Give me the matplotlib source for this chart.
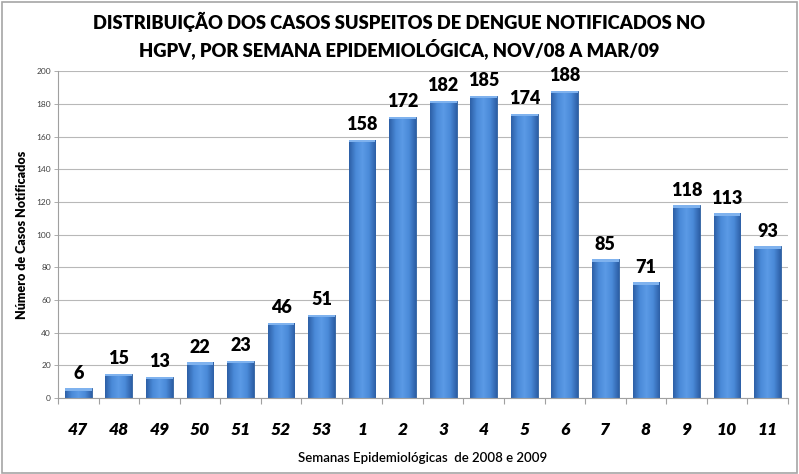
import numpy as np
import matplotlib.pyplot as plt
from matplotlib.colors import LinearSegmentedColormap
from matplotlib.patches import Rectangle

semanas = ['47', '48', '49', '50', '51', '52', '53', '1', '2', '3', '4', '5',
           '6', '7', '8', '9', '10', '11']
casos = [6, 15, 13, 22, 23, 46, 51, 158, 172, 182, 185, 174, 188, 85, 71, 118, 113, 93]

plt.rcParams['font.family'] = ['Lato', 'DejaVu Sans']

fig = plt.figure(figsize=(7.99, 4.74), dpi=100)
ax = fig.add_axes([0.0726, 0.160, 0.9134, 0.690])

x = np.arange(len(semanas))
bars = ax.bar(x, casos, width=0.66, color='#3c78c8', edgecolor='#2f5f9e', linewidth=0.6, zorder=2)

# sombreamento horizontal dentro de cada barra
cmap = LinearSegmentedColormap.from_list('bar', ['#2d5fa6', '#4a8ad8', '#5b9ae6', '#4a8ad8', '#2d5fa6'])
grad = np.linspace(0, 1, 64).reshape(1, -1)
for b in bars:
    bx, bw, bh = b.get_x(), b.get_width(), b.get_height()
    im = ax.imshow(grad, cmap=cmap, aspect='auto', extent=[bx, bx + bw, 0, bh], zorder=2.5)
    im.set_clip_path(b)
    ax.add_patch(Rectangle((bx, bh - 1.5), bw, 1.5, color='#7fb2ee', zorder=2.6, lw=0))
    ax.text(bx + bw / 2, bh + 4, str(bh), ha='center', va='bottom',
            fontsize=13, fontweight='heavy', color='black')

ax.set_xlim(-0.5, len(semanas) - 0.5)
ax.set_ylim(0, 200)
ax.set_yticks(range(0, 201, 20))
ax.tick_params(axis='y', labelsize=6, colors='#404040', length=3, width=0.6, pad=2)
ax.tick_params(axis='y', color='#a0a0a0')
ax.set_xticks(x)
ax.set_xticklabels(semanas, fontsize=12.5, fontweight='heavy', fontstyle='italic')
ax.tick_params(axis='x', length=0, pad=17)
ax.set_xticks(np.arange(-0.5, len(semanas)), minor=True)
ax.tick_params(axis='x', which='minor', length=4, color='#a0a0a0', width=0.8)

ax.grid(axis='y', color='#b8b8b8', linewidth=0.8, zorder=0)
for s in ['top', 'right']:
    ax.spines[s].set_visible(False)
for s in ['left', 'bottom']:
    ax.spines[s].set_color('#a0a0a0')
    ax.spines[s].set_linewidth(0.8)

ax.set_ylabel('Número de Casos Notificados', fontsize=9, fontweight='heavy', labelpad=6)
ax.set_xlabel('Semanas Epidemiológicas  de 2008 e 2009', fontsize=9.5, fontweight='semibold', labelpad=10)

fig.text(0.5, 0.953, 'DISTRIBUIÇÃO DOS CASOS SUSPEITOS DE DENGUE NOTIFICADOS NO',
         ha='center', va='center', fontsize=13.2, fontweight='heavy')
fig.text(0.5, 0.898, 'HGPV, POR SEMANA EPIDEMIOLÓGICA, NOV/08 A MAR/09',
         ha='center', va='center', fontsize=13.2, fontweight='heavy')

fig.patches.append(Rectangle((0.002, 0.003), 0.995, 0.993, transform=fig.transFigure,
                             fill=False, edgecolor='#a6a6a6', linewidth=1.2))

fig.savefig('out.png', dpi=100)
